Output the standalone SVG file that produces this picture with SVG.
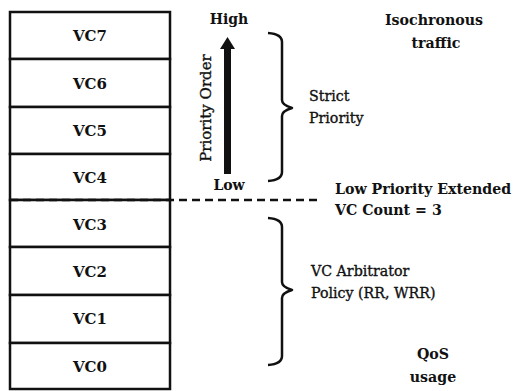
<svg xmlns="http://www.w3.org/2000/svg" width="515" height="391" viewBox="0 0 515 391">
  <style>
    text { font-family: "DejaVu Serif", "Liberation Serif", serif; fill: #111; }
    .vc { font-size: 15px; font-weight: bold; text-anchor: middle; }
    .lbl { font-size: 14.2px; stroke: #111; stroke-width: 0.35; }
    .blbl { font-size: 14.2px; font-weight: bold; }
    .hi { font-size: 14px; font-weight: bold; text-anchor: middle; }
    .cell { fill: #fff; stroke: #111; stroke-width: 2.5; }
    .brace { fill: none; stroke: #111; stroke-width: 2.5; stroke-linejoin: round; }
    .dash { stroke: #111; stroke-width: 2.5; stroke-dasharray: 8 5; }
  </style>
  <rect width="515" height="391" fill="#fff"/>

  <!-- VC stack -->
  <g id="vc7"><rect class="cell" x="10" y="12" width="160" height="47"/><text class="vc" x="90" y="41">VC7</text></g>
  <g id="vc6"><rect class="cell" x="10" y="59" width="160" height="48"/><text class="vc" x="90" y="89">VC6</text></g>
  <g id="vc5"><rect class="cell" x="10" y="107" width="160" height="47"/><text class="vc" x="90" y="136">VC5</text></g>
  <g id="vc4"><rect class="cell" x="10" y="154" width="160" height="46"/><text class="vc" x="90" y="183">VC4</text></g>
  <g id="vc3"><rect class="cell" x="10" y="200" width="160" height="47"/><text class="vc" x="90" y="230">VC3</text></g>
  <g id="vc2"><rect class="cell" x="10" y="247" width="160" height="48"/><text class="vc" x="90" y="277">VC2</text></g>
  <g id="vc1"><rect class="cell" x="10" y="295" width="160" height="48"/><text class="vc" x="90" y="324">VC1</text></g>
  <g id="vc0"><rect class="cell" x="10" y="343" width="160" height="46"/><text class="vc" x="90" y="372">VC0</text></g>

  <!-- connectors: priority arrow, split line, braces -->
  <g id="connectors">
    <line class="dash" x1="10" y1="200" x2="318" y2="200"/>
    <rect x="224" y="48" width="7" height="126" fill="#111"/>
    <polygon points="227.5,37 220,49 235,49" fill="#111"/>
    <path class="brace" d="M268,33 Q282,34 282,42 L282,100 Q282,105 292,108 Q282,111 282,116 L282,172 Q282,180 268,181"/>
    <path class="brace" d="M268,218 Q282,219 282,227 L282,282 Q282,287 292,290 Q282,293 282,298 L282,356 Q282,364 268,365"/>
  </g>

  <g id="priority-axis">
    <text class="hi" x="229" y="24">High</text>
    <text class="hi" x="229" y="190">Low</text>
    <text class="lbl" style="font-size:15px" text-anchor="middle" transform="translate(211,108) rotate(-90)">Priority Order</text>
  </g>

  <g id="strict-priority">
    <text class="lbl" x="309" y="101">Strict</text>
    <text class="lbl" x="309" y="123">Priority</text>
  </g>

  <g id="isochronous">
    <text class="blbl" text-anchor="middle" x="434" y="25">Isochronous</text>
    <text class="blbl" text-anchor="middle" x="436" y="48">traffic</text>
  </g>

  <g id="extended-count">
    <text class="blbl" x="335" y="194">Low Priority Extended</text>
    <text class="blbl" x="335" y="215">VC Count = 3</text>
  </g>

  <g id="arbitrator">
    <text class="lbl" x="311" y="276">VC Arbitrator</text>
    <text class="lbl" x="311" y="298">Policy (RR, WRR)</text>
  </g>

  <g id="qos">
    <text class="blbl" text-anchor="middle" x="433" y="359">QoS</text>
    <text class="blbl" text-anchor="middle" x="433" y="382">usage</text>
  </g>
</svg>
